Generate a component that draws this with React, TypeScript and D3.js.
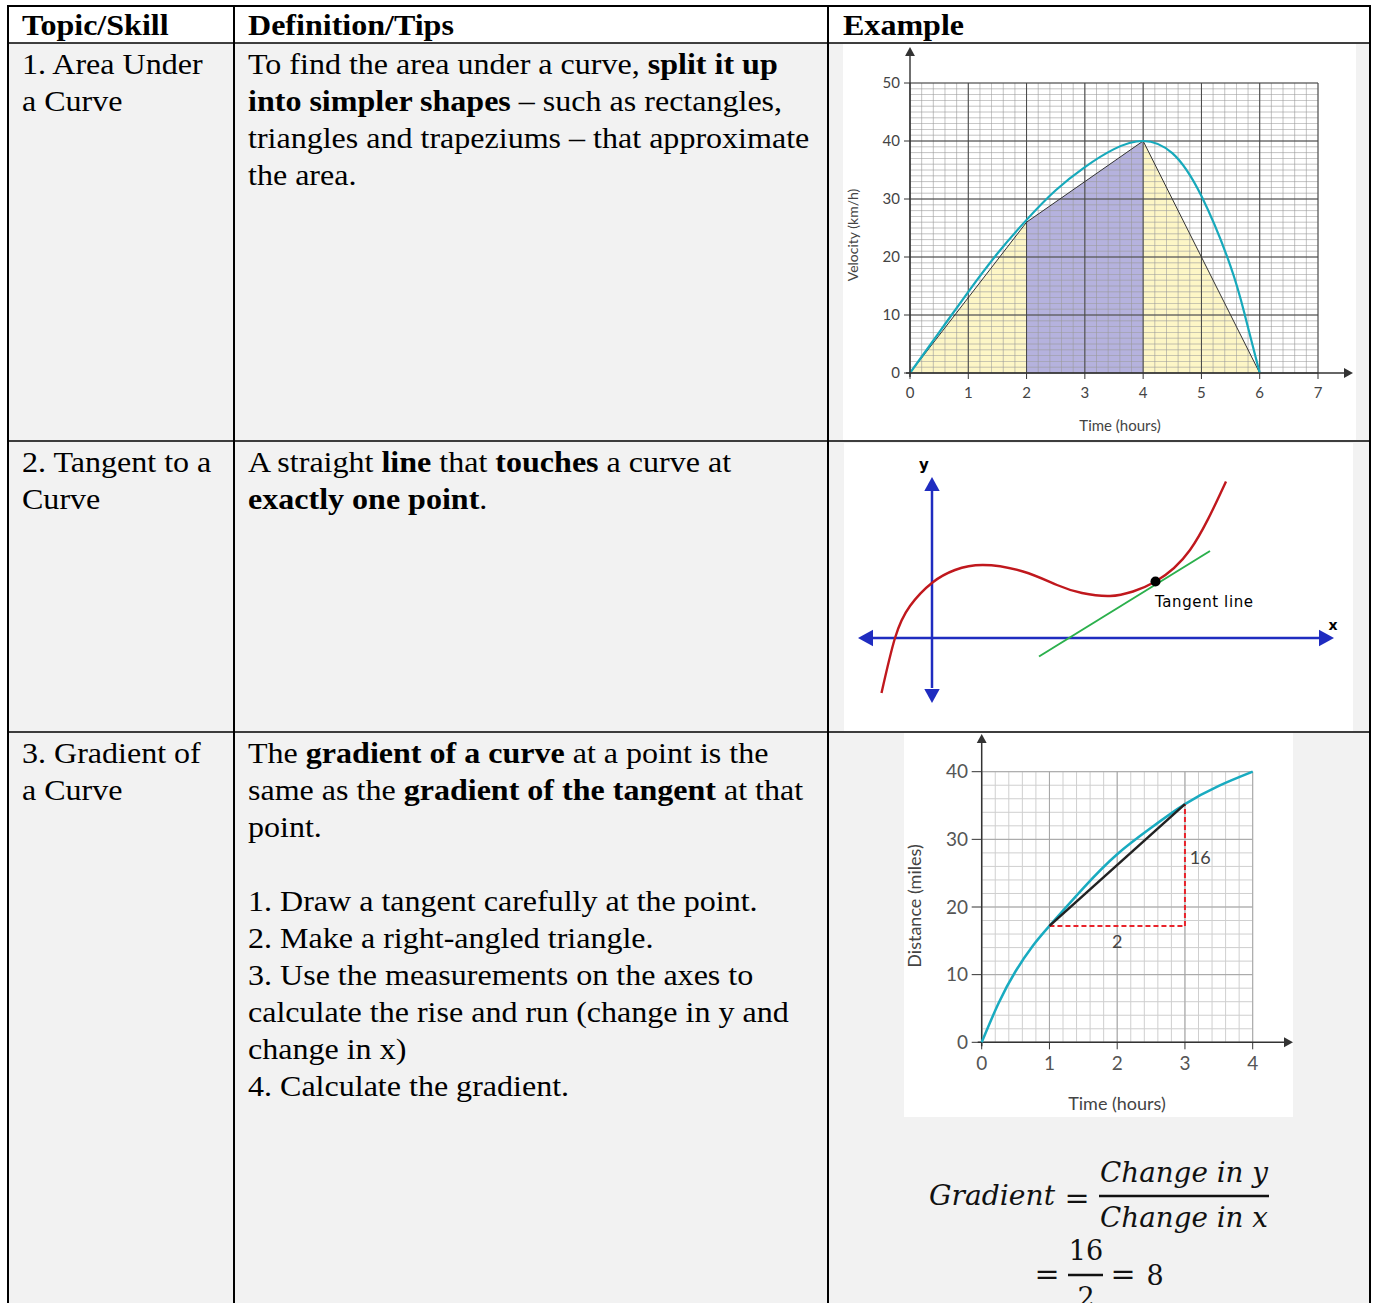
import React from "react";
import * as d3 from "d3";

// ---------- table content ----------
const headers = ["Topic/Skill", "Definition/Tips", "Example"];
const topics = [
  ["1. Area Under", "a Curve"],
  ["2. Tangent to a", "Curve"],
  ["3. Gradient of", "a Curve"],
];
type Seg = [string, boolean];
const tips: Seg[][][] = [
  [
    [["To find the area under a curve, ", false], ["split it up", true]],
    [["into simpler shapes", true], [" \u2013 such as rectangles,", false]],
    [["triangles and trapeziums \u2013 that approximate", false]],
    [["the area.", false]],
  ],
  [
    [["A straight ", false], ["line", true], [" that ", false], ["touches", true], [" a curve at", false]],
    [["exactly one point", true], [".", false]],
  ],
  [
    [["The ", false], ["gradient of a curve", true], [" at a point is the", false]],
    [["same as the ", false], ["gradient of the tangent", true], [" at that", false]],
    [["point.", false]],
    [],
    [["1. Draw a tangent carefully at the point.", false]],
    [["2. Make a right-angled triangle.", false]],
    [["3. Use the measurements on the axes to", false]],
    [["calculate the rise and run (change in y and", false]],
    [["change in x)", false]],
    [["4. Calculate the gradient.", false]],
  ],
];

// ---------- chart 1: velocity / area under a curve ----------
const velTimes = [0, 0.5, 1, 1.5, 2, 2.5, 3, 3.5, 4, 4.5, 5, 5.5, 5.75, 6];
const velValues = [0, 7, 14, 20.6, 26.4, 31.5, 35.5, 38.6, 40, 37.9, 30.5, 18.4, 9.8, 0];
const shapeTimes = [0, 2, 4, 6];
const shapeValues = [0, 26, 40, 0];
const velXTicks = [0, 1, 2, 3, 4, 5, 6, 7];
const velYTicks = [0, 10, 20, 30, 40, 50];

// ---------- chart 2: tangent to a cubic ----------
const cubicX = [-1.01, -0.74, -0.44, 0.01, 0.46, 1.02, 1.82, 2.5, 3.0, 3.56, 4.02, 4.47, 5.16, 5.88];
const cubicY = [-1.1, 0, 0.64, 1.11, 1.36, 1.46, 1.33, 1.06, 0.9, 0.84, 0.93, 1.13, 1.76, 3.13];
const tangentX = [2.14, 5.56];
const tangentY = [-0.37, 1.74];
const touchPoint = [4.47, 1.13];

// ---------- chart 3: distance / gradient ----------
const distTimes = [0, 0.25, 0.5, 0.75, 1, 1.5, 2, 2.5, 3, 3.5, 4];
const distValues = [0, 5.8, 10.5, 14.2, 17.2, 22.8, 27.8, 31.7, 35.2, 37.9, 40];
const chordTimes = [1, 3];
const chordValues = [17.2, 35.2];
const distXTicks = [0, 1, 2, 3, 4];
const distYTicks = [0, 10, 20, 30, 40];

const colX = [8, 234, 828, 1370];
const rowY = [6, 43, 441, 732, 1320];
const serif = "'Liberation Serif', 'Times New Roman', serif";
const sans = "Lato, 'Open Sans', sans-serif";
const stretch = 1.105;

const ParaLines = ({ lines, x, y0 }: { lines: Seg[][]; x: number; y0: number }) => (
  <>
    {lines.map((line, i) => (
      <text key={i} transform={`translate(${x},${y0 + i * 37}) scale(${stretch},1)`} fontFamily={serif} fontSize={29} fill="#000">
        {line.map(([t, b], j) => (
          <tspan key={j} fontWeight={b ? "bold" : "normal"}>{t}</tspan>
        ))}
      </text>
    ))}
  </>
);

const Arrow = ({ x, y, dir, size, fill }: { x: number; y: number; dir: string; size: number; fill: string }) => {
  const h = size, w = size * 0.55;
  let pts = "";
  if (dir === "up") pts = `${x},${y} ${x - w},${y + h} ${x + w},${y + h}`;
  if (dir === "down") pts = `${x},${y} ${x - w},${y - h} ${x + w},${y - h}`;
  if (dir === "right") pts = `${x},${y} ${x - h},${y - w} ${x - h},${y + w}`;
  if (dir === "left") pts = `${x},${y} ${x + h},${y - w} ${x + h},${y + w}`;
  return <polygon points={pts} fill={fill} />;
};

const VelocityChart = () => {
  const x = d3.scaleLinear().domain([0, 7]).range([910, 1318]);
  const y = d3.scaleLinear().domain([0, 50]).range([373, 83]);
  const curve = d3.line<number>().x((_, i) => x(velTimes[i])).y(d => y(d)).curve(d3.curveNatural)(velValues) || "";
  const pts = d3.line<[number, number]>().x(d => x(d[0])).y(d => y(d[1]));
  const outline = d3.line<number>().x(i => x(shapeTimes[i])).y(i => y(shapeValues[i]))([0, 1, 2, 3]) || "";
  const tri1 = pts([[shapeTimes[0], 0], [shapeTimes[1], shapeValues[1]], [shapeTimes[1], 0]]) + "Z";
  const trap = pts([[shapeTimes[1], 0], [shapeTimes[1], shapeValues[1]], [shapeTimes[2], shapeValues[2]], [shapeTimes[2], 0]]) + "Z";
  const tri2 = pts([[shapeTimes[2], 0], [shapeTimes[2], shapeValues[2]], [shapeTimes[3], 0]]) + "Z";
  const minorX = d3.range(0, 7.001, 0.2);
  const minorY = d3.range(0, 50.001, 1);
  return (
    <g>
      <rect x={843} y={44} width={513} height={396} fill="#fff" />
      <path d={tri1} fill="#fdf6c6" />
      <path d={trap} fill="#b5b2de" />
      <path d={tri2} fill="#fdf6c6" />
      {minorX.map((v, i) => (
        <line key={"mx" + i} x1={x(v)} x2={x(v)} y1={y(0)} y2={y(50)} stroke="#9a9a9a" strokeWidth={0.8} opacity={0.75} />
      ))}
      {minorY.map((v, i) => (
        <line key={"my" + i} x1={x(0)} x2={x(7)} y1={y(v)} y2={y(v)} stroke="#9a9a9a" strokeWidth={0.8} opacity={0.75} />
      ))}
      {velXTicks.map(v => (
        <line key={"Mx" + v} x1={x(v)} x2={x(v)} y1={y(0)} y2={y(50)} stroke="#444" strokeWidth={1} />
      ))}
      {velYTicks.map(v => (
        <line key={"My" + v} x1={x(0)} x2={x(7)} y1={y(v)} y2={y(v)} stroke="#444" strokeWidth={1} />
      ))}
      <path d={outline} fill="none" stroke="#333" strokeWidth={1} />
      <path d={curve} fill="none" stroke="#17a9bb" strokeWidth={2.2} />
      <line x1={x(0)} x2={x(0)} y1={y(0) + 4} y2={52} stroke="#333" strokeWidth={1.4} />
      <Arrow x={x(0)} y={47} dir="up" size={9} fill="#333" />
      <line x1={x(0) - 4} x2={1348} y1={y(0)} y2={y(0)} stroke="#333" strokeWidth={1.4} />
      <Arrow x={1353} y={y(0)} dir="right" size={9} fill="#333" />
      {velYTicks.map(v => (
        <g key={"yt" + v}>
          <line x1={x(0) - 6} x2={x(0)} y1={y(v)} y2={y(v)} stroke="#333" strokeWidth={1} />
          <text x={900} y={y(v)} dy="0.35em" textAnchor="end" fontFamily={sans} fontSize={15} fill="#444">{v}</text>
        </g>
      ))}
      {velXTicks.map(v => (
        <g key={"xt" + v}>
          <line x1={x(v)} x2={x(v)} y1={y(0)} y2={y(0) + 6} stroke="#333" strokeWidth={1} />
          <text x={x(v)} y={398} textAnchor="middle" fontFamily={sans} fontSize={15} fill="#444">{v}</text>
        </g>
      ))}
      <text transform="translate(858,235) rotate(-90)" textAnchor="middle" fontFamily={sans} fontSize={14} fill="#444">Velocity (km/h)</text>
      <text x={1120} y={431} textAnchor="middle" fontFamily={sans} fontSize={15} fill="#444">Time (hours)</text>
    </g>
  );
};

const TangentChart = () => {
  const x = d3.scaleLinear().domain([0, 8]).range([932, 1332]);
  const y = d3.scaleLinear().domain([0, 3]).range([638, 488]);
  const curve = d3.line<number>().x((_, i) => x(cubicX[i])).y(d => y(d)).curve(d3.curveNatural)(cubicY) || "";
  const blue = "#1f2cc0";
  return (
    <g>
      <rect x={844} y={443} width={509} height={288} fill="#fff" />
      <line x1={x(-1.2)} x2={x(7.75)} y1={y(0)} y2={y(0)} stroke={blue} strokeWidth={2.5} />
      <Arrow x={858} y={y(0)} dir="left" size={15} fill={blue} />
      <Arrow x={1334} y={y(0)} dir="right" size={15} fill={blue} />
      <line x1={x(0)} x2={x(0)} y1={y(-1.0)} y2={y(2.95)} stroke={blue} strokeWidth={2.5} />
      <Arrow x={x(0)} y={477} dir="up" size={14} fill={blue} />
      <Arrow x={x(0)} y={703} dir="down" size={14} fill={blue} />
      <line x1={x(tangentX[0])} x2={x(tangentX[1])} y1={y(tangentY[0])} y2={y(tangentY[1])} stroke="#2bb04c" strokeWidth={2} />
      <path d={curve} fill="none" stroke="#c0181d" strokeWidth={2.4} />
      <circle cx={x(touchPoint[0])} cy={y(touchPoint[1])} r={5} fill="#000" />
      <text x={1155} y={607} fontFamily="'Comic Sans MS', 'DejaVu Sans', sans-serif" fontSize={15} textLength={98} fill="#000">Tangent line</text>
      <text x={924} y={470} textAnchor="middle" fontFamily="'DejaVu Sans', sans-serif" fontWeight="bold" fontSize={15} fill="#000">y</text>
      <text x={1333} y={630} textAnchor="middle" fontFamily="'DejaVu Sans', sans-serif" fontWeight="bold" fontSize={14} fill="#000">x</text>
    </g>
  );
};

const DistanceChart = () => {
  const x = d3.scaleLinear().domain([0, 4]).range([981.7, 1252.7]);
  const y = d3.scaleLinear().domain([0, 40]).range([1042.3, 771.7]);
  const curve = d3.line<number>().x((_, i) => x(distTimes[i])).y(d => y(d)).curve(d3.curveNatural)(distValues) || "";
  const minorX = d3.range(0, 4.001, 0.2);
  const minorY = d3.range(0, 40.001, 2);
  return (
    <g>
      <rect x={904} y={733} width={389} height={384} fill="#fff" />
      {minorX.map((v, i) => (
        <line key={"mx" + i} x1={x(v)} x2={x(v)} y1={y(0)} y2={y(40)} stroke="#cfcfcf" strokeWidth={1} />
      ))}
      {minorY.map((v, i) => (
        <line key={"my" + i} x1={x(0)} x2={x(4)} y1={y(v)} y2={y(v)} stroke="#cfcfcf" strokeWidth={1} />
      ))}
      {distXTicks.map(v => (
        <line key={"Mx" + v} x1={x(v)} x2={x(v)} y1={y(0)} y2={y(40)} stroke="#a5a5a5" strokeWidth={1} />
      ))}
      {distYTicks.map(v => (
        <line key={"My" + v} x1={x(0)} x2={x(4)} y1={y(v)} y2={y(v)} stroke="#a5a5a5" strokeWidth={1} />
      ))}
      <line x1={x(0)} x2={x(0)} y1={y(0) + 4} y2={740} stroke="#333" strokeWidth={1.5} />
      <Arrow x={x(0)} y={734} dir="up" size={9} fill="#333" />
      <line x1={x(0) - 4} x2={1287} y1={y(0)} y2={y(0)} stroke="#333" strokeWidth={1.5} />
      <Arrow x={1293} y={y(0)} dir="right" size={9} fill="#333" />
      {distYTicks.map(v => (
        <g key={"yt" + v}>
          <line x1={x(0) - 10} x2={x(0)} y1={y(v)} y2={y(v)} stroke="#333" strokeWidth={1} />
          <text x={968} y={y(v)} dy="0.35em" textAnchor="end" fontFamily={sans} fontSize={19} fill="#555">{v}</text>
        </g>
      ))}
      {distXTicks.map(v => (
        <g key={"xt" + v}>
          <line x1={x(v)} x2={x(v)} y1={y(0)} y2={y(0) + 7} stroke="#333" strokeWidth={1} />
          <text x={x(v)} y={1070} textAnchor="middle" fontFamily={sans} fontSize={19} fill="#555">{v}</text>
        </g>
      ))}
      <path d={curve} fill="none" stroke="#19abc0" strokeWidth={2.5} />
      <line x1={x(chordTimes[0])} x2={x(chordTimes[1])} y1={y(chordValues[0])} y2={y(chordValues[0])} stroke="#e8232b" strokeWidth={2} strokeDasharray="5,3" />
      <line x1={x(chordTimes[1])} x2={x(chordTimes[1])} y1={y(chordValues[0])} y2={y(chordValues[1])} stroke="#e8232b" strokeWidth={2} strokeDasharray="5,3" />
      <line x1={x(chordTimes[0])} x2={x(chordTimes[1])} y1={y(chordValues[0])} y2={y(chordValues[1])} stroke="#222" strokeWidth={2.5} />
      <text x={x(2)} y={y(13.9)} textAnchor="middle" fontFamily={sans} fontSize={18} fill="#444">{chordTimes[1] - chordTimes[0]}</text>
      <text x={x(3.07)} y={y(26.3)} fontFamily={sans} fontSize={18} fill="#444">16</text>
      <text transform="translate(921,906) rotate(-90)" textAnchor="middle" fontFamily={sans} fontSize={18} fill="#444">Distance (miles)</text>
      <text x={1117} y={1110} textAnchor="middle" fontFamily={sans} fontSize={18} fill="#444">Time (hours)</text>
    </g>
  );
};

const Formula = () => {
  const f = "'DejaVu Serif', serif";
  return (
    <g fill="#111">
      <text x={929} y={1205} fontFamily={f} fontStyle="italic" fontSize={28} textLength={126} lengthAdjust="spacingAndGlyphs">Gradient</text>
      <text x={1077} y={1208} textAnchor="middle" fontFamily={f} fontSize={30}>=</text>
      <line x1={1099} x2={1269} y1={1196} y2={1196} stroke="#111" strokeWidth={2.5} />
      <text x={1100} y={1182} fontFamily={f} fontStyle="italic" fontSize={28} textLength={168} lengthAdjust="spacingAndGlyphs">Change in y</text>
      <text x={1100} y={1227} fontFamily={f} fontStyle="italic" fontSize={28} textLength={168} lengthAdjust="spacingAndGlyphs">Change in x</text>
      <text x={1047} y={1284} textAnchor="middle" fontFamily={f} fontSize={30}>=</text>
      <text x={1086} y={1260} textAnchor="middle" fontFamily={f} fontSize={27}>16</text>
      <line x1={1068} x2={1103} y1={1275} y2={1275} stroke="#111" strokeWidth={2.5} />
      <text x={1086} y={1307} textAnchor="middle" fontFamily={f} fontSize={27}>2</text>
      <text x={1123} y={1284} textAnchor="middle" fontFamily={f} fontSize={30}>=</text>
      <text x={1155} y={1285} textAnchor="middle" fontFamily={f} fontSize={27}>8</text>
    </g>
  );
};

export default function App() {
  return (
    <svg width={1375} height={1303} style={{ position: "absolute", left: 0, top: 0, background: "#fff" }}>
      {/* body cells */}
      <rect x={colX[0]} y={rowY[1]} width={colX[3] - colX[0]} height={rowY[4] - rowY[1]} fill="#f2f2f2" />
      {headers.map((h, i) => (
        <text key={h} transform={`translate(${[22, 248, 843][i]},35) scale(${stretch},1)`} fontFamily={serif} fontWeight="bold" fontSize={29}>{h}</text>
      ))}
      {topics.map((t, r) => (
        <ParaLines key={"t" + r} lines={t.map(s => [[s, false] as Seg])} x={22} y0={rowY[r + 1] + 31} />
      ))}
      {tips.map((t, r) => (
        <ParaLines key={"p" + r} lines={t} x={248} y0={rowY[r + 1] + 31} />
      ))}
      <VelocityChart />
      <TangentChart />
      <DistanceChart />
      <Formula />
      {/* table rules */}
      {rowY.slice(0, 4).map((v, i) => (
        <line key={"r" + i} x1={colX[0]} x2={colX[3]} y1={v} y2={v} stroke="#000" strokeWidth={i === 0 ? 2 : 1.6} />
      ))}
      {colX.map((v, i) => (
        <line key={"c" + i} x1={v} x2={v} y1={rowY[0] - 1} y2={1303} stroke="#000" strokeWidth={2} />
      ))}
    </svg>
  );
}
